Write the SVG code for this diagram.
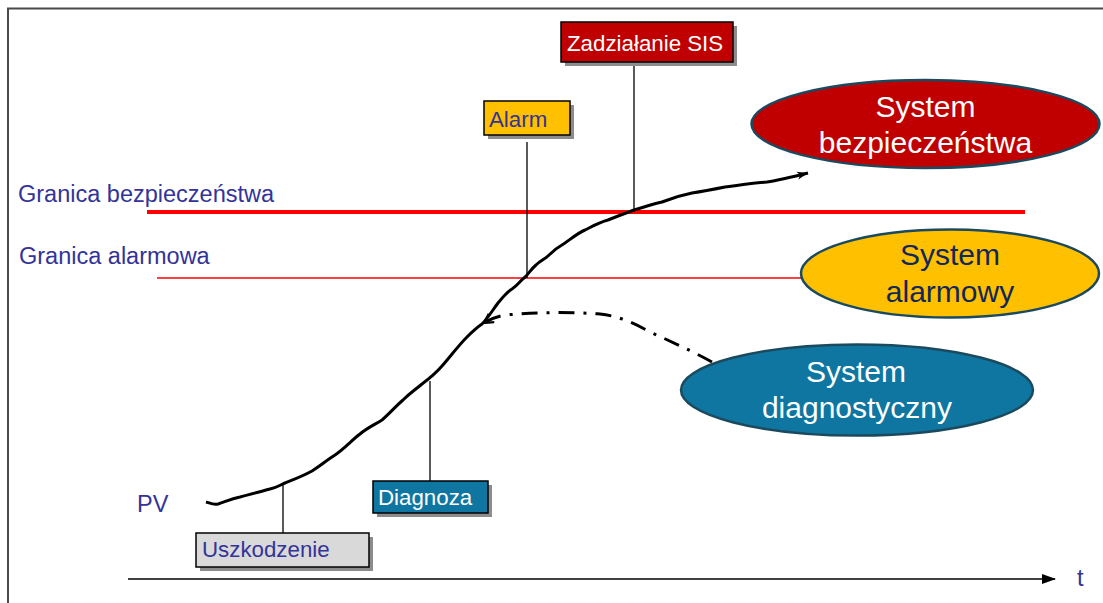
<svg xmlns="http://www.w3.org/2000/svg" width="1103" height="603" viewBox="0 0 1103 603">
<style>
.lbl{font-family:"Liberation Sans",Arial,sans-serif;font-size:23.5px;fill:#333399}
.box{stroke:#000;stroke-width:1.5}
.shadow{fill:#8c8c8c}
.bt{font-family:"Liberation Sans",Arial,sans-serif;font-size:22.3px}
.et{font-family:"Liberation Sans",Arial,sans-serif;font-size:30px;text-anchor:middle}
.ell{stroke:#1b4a5e;stroke-width:2.5}
.lead{stroke:#000;stroke-width:1.3;fill:none}
</style>
<defs>
<marker id="axisArrow" markerWidth="14" markerHeight="10" refX="13" refY="5" orient="auto" markerUnits="userSpaceOnUse">
<path d="M0,0 L14,5 L0,10 Z" fill="#000"/>
</marker>
<marker id="pvArrow" markerWidth="12" markerHeight="10" refX="11" refY="5" orient="auto" markerUnits="userSpaceOnUse">
<path d="M0,1 L11,5 L0,9 L3,5 Z" fill="#000"/>
</marker>
<marker id="vArrow" markerWidth="12" markerHeight="12" refX="10" refY="6" orient="auto" markerUnits="userSpaceOnUse">
<path d="M1,1 L10,6 L1,11" fill="none" stroke="#000" stroke-width="2.2"/>
</marker>
</defs>
<rect width="1103" height="603" fill="#fff"/>
<g id="frame" stroke="#4a4a4a" stroke-width="2" fill="none">
<path d="M8,603 V8.5 H1103"/>
</g>
<g id="limits">
<text class="lbl" x="18" y="202">Granica bezpieczeństwa</text>
<text class="lbl" x="19" y="264">Granica alarmowa</text>
<line x1="147" y1="212" x2="1025" y2="212" stroke="#ff0000" stroke-width="4"/>
<line x1="157" y1="278" x2="801" y2="278" stroke="#ff0000" stroke-width="1.5"/>
</g>
<g id="connectors">
<line class="lead" x1="527" y1="142" x2="527" y2="278"/>
<line class="lead" x1="634" y1="62" x2="634" y2="212"/>
<line class="lead" x1="430" y1="381" x2="430" y2="481" stroke="#555"/>
<line class="lead" x1="283" y1="485" x2="283" y2="533"/>
<path id="pv" d="M206,502 C210,503 213,505 218,504 C225,502 230,499 240,497 C252,494 262,491 270,489 C276,488 280,485 285,483 C295,479 303,476 312,471 C320,466 327,460 335,455 C345,448 352,440 360,434 C367,428 374,425 382,420 C390,413 396,406 403,400 C410,393 415,390 422,384 C430,378 436,373 442,366 C450,357 458,346 467,337 C472,332 476,328 482,324 C488,318 492,311 498,303 C503,297 507,292 512,289 C518,285 520,281 524,278 C528,275 530,270 536,265 C540,261 545,259 548,256 C552,252 558,247 565,243 C572,238 578,233 585,230 C593,226 600,222 608,220 C618,216 626,213 634,210 C645,207 652,204 662,202 C672,198 682,195 692,193 C705,191 715,189 725,187 C740,185 752,183 767,182 C780,180 792,177 808,173" fill="none" stroke="#000" stroke-width="3" stroke-linejoin="round" marker-end="url(#pvArrow)"/>
<path id="diag-link" d="M712,362 C690,350 670,341 650,332 C632,322 618,316 600,314 C570,312 540,312 505,315 C496,317 490,319 484,323" fill="none" stroke="#000" stroke-width="3" stroke-dasharray="16,9,3,9" marker-end="url(#vArrow)"/>
<line id="t-axis" x1="128" y1="579" x2="1055" y2="579" stroke="#000" stroke-width="1.5" marker-end="url(#axisArrow)"/>
</g>
<g id="pv-label"><text class="lbl" x="137" y="512" font-size="22">PV</text></g>
<g id="t-label"><text class="lbl" x="1077" y="586">t</text></g>
<g id="zadzialanie">
<rect class="shadow" x="565" y="26" width="172" height="40"/>
<rect class="box" x="561" y="22" width="172" height="40" fill="#c00000"/>
<text class="bt" x="567" y="51" fill="#fff" font-size="23">Zadziałanie SIS</text>
</g>
<g id="alarm">
<rect class="shadow" x="488" y="105" width="86" height="34"/>
<rect class="box" x="484" y="101" width="86" height="34" fill="#ffc000"/>
<text class="bt" x="489" y="127" fill="#333399">Alarm</text>
</g>
<g id="diagnoza">
<rect class="shadow" x="377" y="485" width="115" height="32"/>
<rect class="box" x="373" y="481" width="115" height="32" fill="#0e76a0"/>
<text class="bt" x="378" y="505" fill="#fff">Diagnoza</text>
</g>
<g id="uszkodzenie">
<rect class="shadow" x="200" y="537" width="173" height="34"/>
<rect class="box" x="196" y="533" width="173" height="34" fill="#d9d9d9"/>
<text class="bt" x="202" y="557" fill="#333399">Uszkodzenie</text>
</g>
<g id="system-bezpieczenstwa">
<ellipse class="ell" cx="925.5" cy="124" rx="174" ry="44" fill="#c00000"/>
<text class="et" x="925.5" y="117" fill="#fff">System</text>
<text class="et" x="925.5" y="153" fill="#fff">bezpieczeństwa</text>
</g>
<g id="system-alarmowy">
<ellipse class="ell" cx="950" cy="273.5" rx="149" ry="44" fill="#ffc000"/>
<text class="et" x="950" y="265" fill="#13275a">System</text>
<text class="et" x="950" y="302" fill="#13275a">alarmowy</text>
</g>
<g id="system-diagnostyczny">
<ellipse class="ell" cx="857" cy="390" rx="176" ry="45.5" fill="#0e76a0"/>
<text class="et" x="856" y="382" fill="#fff">System</text>
<text class="et" x="857" y="418" fill="#fff">diagnostyczny</text>
</g>
</svg>
